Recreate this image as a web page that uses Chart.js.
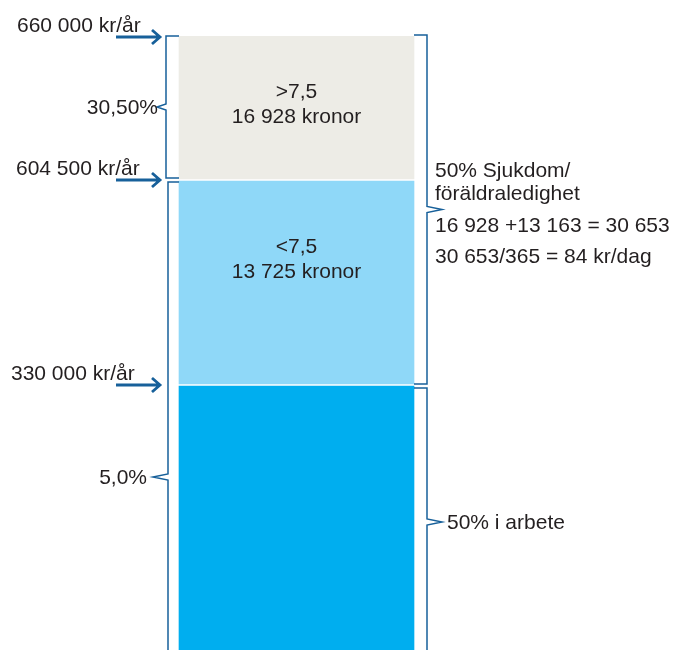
<!DOCTYPE html>
<html>
<head>
<meta charset="utf-8">
<script src="https://cdn.jsdelivr.net/npm/chart.js@4.4.0/dist/chart.umd.min.js"></script>
<style>
    html, body { margin: 0; padding: 0; background: #fff; overflow: hidden; }
    #wrap { width: 684px; height: 650px; }
</style>
</head>
<body>
<div id="wrap"><canvas id="chart" width="684" height="650"></canvas></div>
<script>
// Schematic bar - spans are in diagram units, not proportional to kronor
const segments = ['I arbete', 'Under 7,5', 'Over 7,5'];
const segmentSpans = [[0, 264], [266, 469], [471, 614]];
const segmentColors = ['#00aeef', '#8fd8f8', '#edece6'];
const segmentText = [[], ['<7,5', '13 725 kronor'], ['>7,5', '16 928 kronor']];

// Income levels with arrows (left side)
const incomeLabels = ['660 000 kr/år', '604 500 kr/år', '330 000 kr/år'];
const incomeLevels = [613, 470, 265];

// Left braces
const rateLabels = ['30,50%', '5,0%'];
const rateSpans = [[472, 614], [-122, 468]];

// Right braces
const rightLabels = [
    ['50% Sjukdom/', 'föräldraledighet', '16 928 +13 163 = 30 653', '30 653/365 = 84 kr/dag'],
    ['50% i arbete']
];
const rightSpans = [[266, 615], [-6, 262]];

const FONT = '21px "Liberation Sans", Arial, sans-serif';
const TEXT = '#231f20';
const LINE = '#17609a';

// Draws all the brackets, arrows and texts around the bar
const annotations = {
    id: 'annotations',
    afterDraw(chart) {
        const ctx = chart.ctx;
        const y = chart.scales.y;
        const bar = chart.getDatasetMeta(0).data[0];
        const left = bar.x - bar.width / 2;
        const right = bar.x + bar.width / 2;

        ctx.save();
        ctx.font = FONT;
        ctx.fillStyle = TEXT;
        ctx.textBaseline = 'alphabetic';

        // texts inside the bar
        const topOffsets = [0, 72, 62];
        segmentText.forEach((lines, i) => {
            const el = chart.getDatasetMeta(i).data[0];
            ctx.textAlign = 'center';
            lines.forEach((t, j) => {
                ctx.fillText(t, el.x, el.y + topOffsets[i] + j * 25);
            });
        });

        // arrows + income labels
        ctx.strokeStyle = LINE;
        ctx.lineWidth = 2.8;
        ctx.textAlign = 'left';
        const labelX = [17, 16, 11];
        incomeLevels.forEach((v, i) => {
            const py = y.getPixelForValue(v);
            const tip = left - 19;
            ctx.beginPath();
            ctx.moveTo(tip - 44, py);
            ctx.lineTo(tip, py);
            ctx.moveTo(tip - 8, py - 7);
            ctx.lineTo(tip, py);
            ctx.lineTo(tip - 8, py + 7);
            ctx.stroke();
            ctx.fillText(incomeLabels[i], labelX[i], py - 5);
        });

        // left braces
        ctx.lineWidth = 1.5;
        const leftX = [left - 13, left - 11];
        const leftTip = [left - 22, left - 26];
        const labelGap = [-1, 6];
        rateSpans.forEach((s, i) => {
            const yt = y.getPixelForValue(s[1]);
            const yb = y.getPixelForValue(s[0]);
            const mid = brace(ctx, leftX[i], left, yt, yb, leftTip[i]);
            ctx.textAlign = 'right';
            ctx.fillText(rateLabels[i], leftTip[i] - labelGap[i], mid + 7);
        });

        // right braces
        const rightTextOffsets = [[-33, -10, 22, 53], [7]];
        rightSpans.forEach((s, i) => {
            const yt = y.getPixelForValue(s[1]);
            const yb = y.getPixelForValue(s[0]);
            const mid = brace(ctx, right + 13, right, yt, yb, right + 28);
            ctx.textAlign = 'left';
            const tx = i === 0 ? right + 21 : right + 33;
            rightLabels[i].forEach((t, j) => {
                ctx.fillText(t, tx, mid + rightTextOffsets[i][j]);
            });
        });
        ctx.restore();
    }
};

function brace(ctx, xLine, xBar, yTop, yBot, tipX) {
    const mid = (yTop + yBot) / 2;
    ctx.beginPath();
    ctx.moveTo(xBar, yTop);
    ctx.lineTo(xLine, yTop);
    ctx.lineTo(xLine, mid - 3);
    ctx.lineTo(tipX, mid);
    ctx.lineTo(xLine, mid + 3);
    ctx.lineTo(xLine, yBot);
    ctx.lineTo(xBar, yBot);
    ctx.stroke();
    return mid;
}

new Chart(document.getElementById('chart').getContext('2d'), {
    type: 'bar',
    data: {
        labels: [''],
        datasets: segments.map((name, i) => ({
            label: name,
            data: [segmentSpans[i]],
            backgroundColor: segmentColors[i],
            borderWidth: 0,
            barThickness: 235,
            grouped: false
        }))
    },
    options: {
        responsive: false,
        animation: false,
        layout: { padding: { top: 36, left: 0, right: 91, bottom: 0 } },
        plugins: {
            legend: { display: false },
            tooltip: { enabled: false }
        },
        scales: {
            x: { display: false },
            y: { display: false, min: 0, max: 614 }
        }
    },
    plugins: [annotations]
});
</script>
</body>
</html>
